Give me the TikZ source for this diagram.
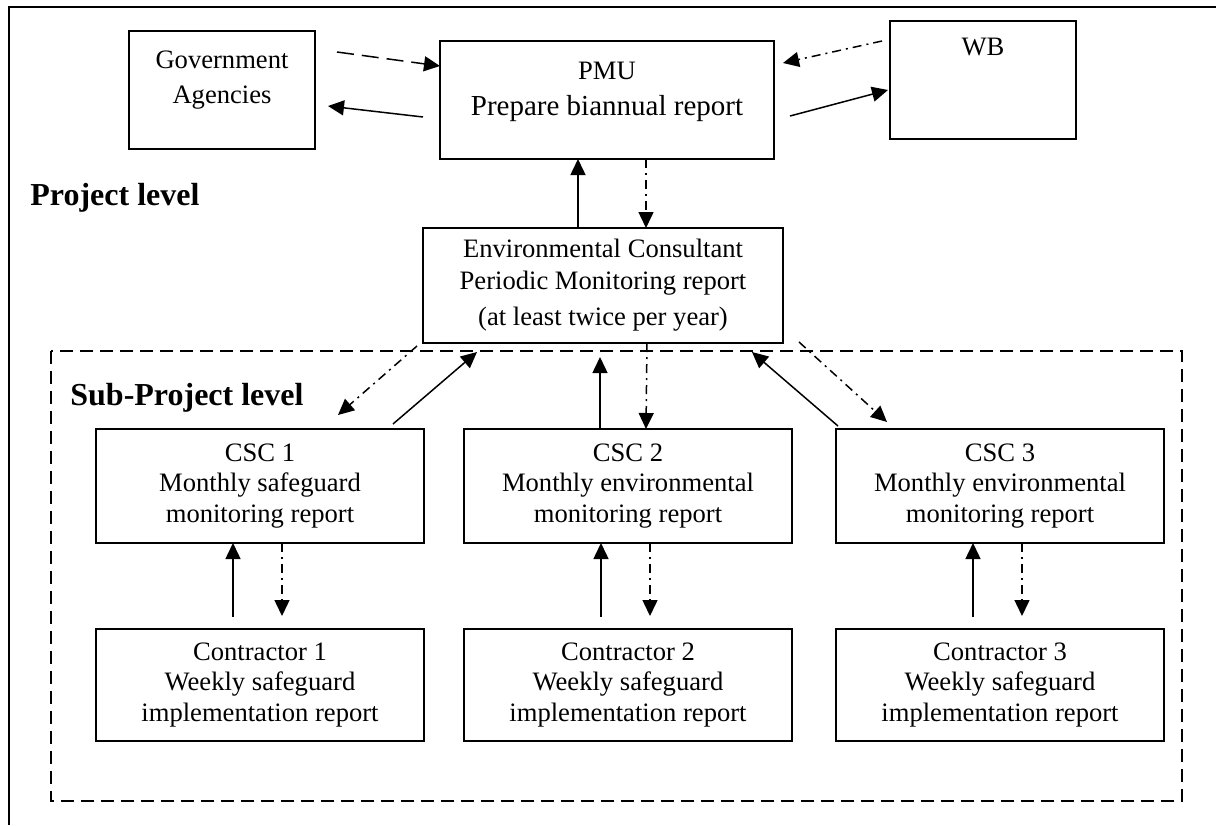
\documentclass[tikz,border=0pt]{standalone}
\usepackage{fontspec}
\setmainfont{Liberation Serif}
\usetikzlibrary{positioning,arrows.meta}

\tikzset{
  box/.style={draw, line width=1pt, outer sep=0pt, inner sep=0pt, align=center,
    minimum width=164pt, minimum height=57pt, font=\fontsize{13.3pt}{15.3pt}\selectfont},
  toptext/.style={align=center, anchor=north, inner sep=0pt, font=\fontsize{13.3pt}{17.5pt}\selectfont},
  lbl/.style={anchor=base west, inner sep=0pt, font=\fontsize{16pt}{18pt}\selectfont\bfseries},
  arr/.style={-{Triangle[length=8pt,width=7.5pt]}, line width=0.75pt},
  dasharrow/.style={arr, dash pattern=on 8.5pt off 4pt},
  ddarrow/.style={arr, dash pattern=on 4.5pt off 2.5pt on 1pt off 2.5pt}
}

\begin{document}
\begin{tikzpicture}[x=0.5pt, y=-0.5pt]
  \useasboundingbox (0,0) rectangle (1216,825);
  \draw[line width=1pt] (9,825) -- (9,7) -- (1216,7);
  \draw[line width=1pt, dash pattern=on 6.5pt off 3.5pt] (51,351) rectangle (1182,801);

  % Nodes
  \node[box, minimum width=93pt, minimum height=59pt,
    label={[toptext, yshift=-9.5pt]north:Government\\Agencies}] (gov) at (222,90) {};
  \node[box, minimum width=167pt, minimum height=59pt,
    label={[toptext, yshift=-10.5pt]north:PMU\\[0.5pt]{\fontsize{14.5pt}{17pt}\selectfont Prepare biannual report}}] (pmu) at (607,100) {};
  \node[box, minimum width=93pt, minimum height=59pt,
    label={[toptext, yshift=-8.5pt]north:WB}] (wb) at (983,80) {};
  \node[box, minimum width=180pt, minimum height=57.5pt] (env) at (603,285.5)
    {Environmental Consultant\\[0.5pt]Periodic Monitoring report\\[3pt](at least twice per year)};
  \node[lbl] (projlevel) at (30,205) {Project level};
  \node[lbl] (sublevel) at (70,405) {Sub-Project level};

  \node[box] (csc1) at (260,486) {CSC 1\\Monthly safeguard\\monitoring report};
  \node[box] (csc2) [right=20pt of csc1] {CSC 2\\Monthly environmental\\monitoring report};
  \node[box] (csc3) [right=22pt of csc2] {CSC 3\\Monthly environmental\\monitoring report};
  \node[box, minimum height=56pt] (con1) [below=43pt of csc1] {Contractor 1\\Weekly safeguard\\implementation report};
  \node[box, minimum height=56pt] (con2) [below=43pt of csc2] {Contractor 2\\Weekly safeguard\\implementation report};
  \node[box, minimum height=56pt] (con3) [below=43pt of csc3] {Contractor 3\\Weekly safeguard\\implementation report};

  \draw[dasharrow] ([shift={(22,-38)}]gov.east) -- ([shift={(0,-34)}]pmu.west);
  \draw[arr] ([shift={(-17,17)}]pmu.west) -- ([shift={(13,16)}]gov.east);
  \draw[ddarrow] ([shift={(-8,-39)}]wb.west) -- ([shift={(9,-37)}]pmu.east);
  \draw[arr] ([shift={(16,16)}]pmu.east) -- ([shift={(-2,10)}]wb.west);
  \draw[arr] ([shift={(-25,0)}]env.north) -- ([shift={(-29,0)}]pmu.south);
  \draw[ddarrow] ([shift={(39,0)}]pmu.south) -- ([shift={(43,0)}]env.north);

  \draw[arr] ([shift={(133,-5)}]csc1.north) -- ([shift={(-126,9)}]env.south);
  \draw[ddarrow] ([shift={(-186,3)}]env.south) -- ([shift={(78,-14)}]csc1.north);
  \draw[arr] ([shift={(-28,0)}]csc2.north) -- ([shift={(-3,14)}]env.south);
  \draw[ddarrow] ([shift={(44,0)}]env.south) -- ([shift={(18,0)}]csc2.north);
  \draw[arr] ([shift={(-162,-3)}]csc3.north) -- ([shift={(149,9)}]env.south);
  \draw[ddarrow] ([shift={(196,-1)}]env.south) -- ([shift={(-113,-7)}]csc3.north);

  \draw[arr] ([shift={(-27,-12)}]con1.north) -- ([shift={(-27,0)}]csc1.south);
  \draw[ddarrow] ([shift={(22,0)}]csc1.south) -- ([shift={(22,-13)}]con1.north);
  \draw[arr] ([shift={(-27,-12)}]con2.north) -- ([shift={(-27,0)}]csc2.south);
  \draw[ddarrow] ([shift={(22,0)}]csc2.south) -- ([shift={(22,-13)}]con2.north);
  \draw[arr] ([shift={(-27,-12)}]con3.north) -- ([shift={(-27,0)}]csc3.south);
  \draw[ddarrow] ([shift={(22,0)}]csc3.south) -- ([shift={(22,-13)}]con3.north);
\end{tikzpicture}
\end{document}
